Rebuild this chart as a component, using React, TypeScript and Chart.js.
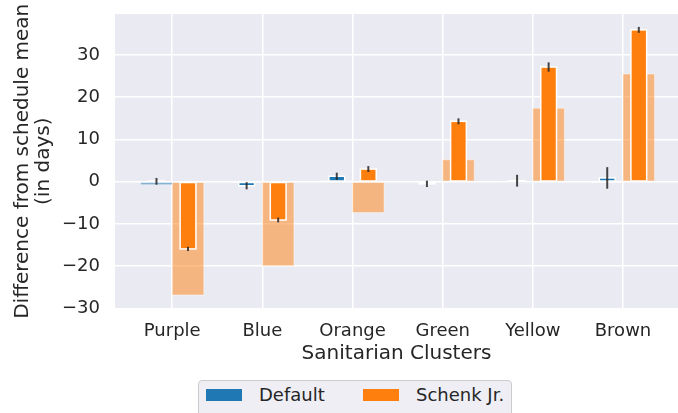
import React, { useEffect, useRef } from 'react';
import { Chart, registerables } from 'chart.js';

Chart.register(...registerables);

// ---- data ----
const categories = ['Purple', 'Blue', 'Orange', 'Green', 'Yellow', 'Brown'];
const seriesNames = ['Default', 'Schenk Jr.'];
const seriesColors = ['#1f77b4', '#ff7f0e'];
const seriesLightColors = ['rgba(31,119,180,0.5)', 'rgba(255,127,14,0.5)'];

const defaultValues = [0.1, -0.95, 1.3, -0.5, 0.25, 0.9];
const defaultErrors = [0.8, 0.85, 0.85, 0.75, 1.4, 2.55];
const defaultOverall = [-0.7, 0, 0.2, 0, -0.25, -0.15];

const schenkValues = [-15.9, -9.05, 3.0, 14.3, 27.15, 35.95];
const schenkErrors = [0.5, 0.55, 0.7, 0.7, 1.1, 0.7];
const schenkOverall = [-26.8, -19.9, -7.3, 5.2, 17.4, 25.5];

const yTicks = [-30, -20, -10, 0, 10, 20, 30];
const yMin = -30;
const yMax = 39.7;
const xMin = -0.635;
const xMax = 5.61;

const FONT = "'DejaVu Sans', sans-serif";
const TEXT = '#262626';

const toPoints = (vals: number[]) => vals.map((v, i) => ({ x: i, y: v }));

const bgPlugin = {
  id: 'plotBg',
  beforeDraw(chart: any) {
    const { ctx, chartArea } = chart;
    ctx.save();
    ctx.fillStyle = '#EAEAF2';
    ctx.fillRect(chartArea.left, chartArea.top, chartArea.right - chartArea.left, chartArea.bottom - chartArea.top);
    ctx.restore();
  },
};

// white edge drawn centred on the bar outline (matplotlib style)
const edgePlugin = {
  id: 'barEdges',
  afterDatasetDraw(chart: any, args: any) {
    const ds: any = chart.data.datasets[args.index];
    if (!ds.edgeColor) return;
    const { ctx } = chart;
    ctx.save();
    ctx.strokeStyle = ds.edgeColor;
    ctx.lineWidth = ds.edgeWidth;
    args.meta.data.forEach((bar: any) => {
      const { x, y, base, width } = bar.getProps(['x', 'y', 'base', 'width'], true);
      const top = Math.min(y, base);
      const h = Math.abs(y - base);
      ctx.strokeRect(x - width / 2, top, width, h);
    });
    ctx.restore();
  },
};

const errorBarPlugin = {
  id: 'errorBars',
  afterDatasetsDraw(chart: any) {
    const { ctx } = chart;
    const yScale = chart.scales.y;
    ctx.save();
    ctx.strokeStyle = 'rgba(38,38,38,0.85)';
    ctx.lineWidth = 2;
    chart.data.datasets.forEach((ds: any, di: number) => {
      const errs: number[] | undefined = ds.errors;
      if (!errs) return;
      const meta = chart.getDatasetMeta(di);
      meta.data.forEach((bar: any, i: number) => {
        const v = ds.data[i].y;
        ctx.beginPath();
        ctx.moveTo(bar.x, yScale.getPixelForValue(v + errs[i]));
        ctx.lineTo(bar.x, yScale.getPixelForValue(v - errs[i]));
        ctx.stroke();
      });
    });
    ctx.restore();
  },
};

export default function App() {
  const canvasRef = useRef<HTMLCanvasElement | null>(null);

  useEffect(() => {
    if (!canvasRef.current) return;
    const darkCommon = {
      categoryPercentage: 0.7,
      barPercentage: 0.5,
      borderWidth: 0,
      edgeColor: '#ffffff',
      edgeWidth: 1.5,
    };
    const lightCommon = {
      categoryPercentage: 0.7,
      barPercentage: 1.0,
      borderWidth: 0,
      edgeColor: 'rgba(255,255,255,0.45)',
      edgeWidth: 1,
    };
    const chart = new Chart(canvasRef.current, {
      type: 'bar',
      data: {
        datasets: [
          { ...darkCommon, label: seriesNames[0], stack: 'd', data: toPoints(defaultValues), backgroundColor: seriesColors[0], errors: defaultErrors } as any,
          { ...darkCommon, label: seriesNames[1], stack: 's', data: toPoints(schenkValues), backgroundColor: seriesColors[1], errors: schenkErrors } as any,
          { ...lightCommon, label: seriesNames[0] + ' overall', stack: 'd', data: toPoints(defaultOverall), backgroundColor: seriesLightColors[0] } as any,
          { ...lightCommon, label: seriesNames[1] + ' overall', stack: 's', data: toPoints(schenkOverall), backgroundColor: seriesLightColors[1] } as any,
        ],
      },
      options: {
        responsive: false,
        animation: false,
        devicePixelRatio: 1,
        layout: { padding: { top: 14, right: 0, bottom: 44.5, left: 0 } },
        plugins: {
          legend: { display: false },
          tooltip: { enabled: false },
        },
        scales: {
          x: {
            type: 'linear',
            stacked: true,
            offset: false,
            min: xMin,
            max: xMax,
            afterBuildTicks: (scale: any) => {
              scale.ticks = categories.map((_, i) => ({ value: i }));
            },
            afterFit: (scale: any) => {
              scale.height = 60;
              scale.paddingLeft = 0;
              scale.paddingRight = 0;
            },
            border: { display: false },
            grid: { color: '#ffffff', lineWidth: 1.5, drawTicks: false, offset: false },
            ticks: {
              padding: 12,
              color: TEXT,
              font: { family: FONT, size: 18 },
              callback: (v: any) => categories[v] ?? '',
              maxRotation: 0,
              autoSkip: false,
            },
            title: {
              display: true,
              text: 'Sanitarian Clusters',
              color: TEXT,
              font: { family: FONT, size: 20, lineHeight: 1.2 },
              padding: { top: 0, bottom: 2.5 },
            },
          },
          y: {
            type: 'linear',
            stacked: false,
            min: yMin,
            max: yMax,
            afterBuildTicks: (scale: any) => {
              scale.ticks = yTicks.map((v) => ({ value: v }));
            },
            afterFit: (scale: any) => {
              scale.width = 115;
              scale.paddingTop = 0;
              scale.paddingBottom = 0;
            },
            border: { display: false },
            grid: { color: '#ffffff', lineWidth: 1.5, drawTicks: false },
            ticks: {
              padding: 15,
              color: TEXT,
              font: { family: FONT, size: 18 },
              callback: (v: any) => (v < 0 ? '\u2212' + Math.abs(v) : String(v)),
            },
            title: {
              display: true,
              text: ['Difference from schedule mean', '(in days)'],
              color: TEXT,
              font: { family: FONT, size: 20, lineHeight: 1.05 },
              padding: { top: 12.5, bottom: 0 },
            },
          },
        },
      } as any,
      plugins: [bgPlugin, edgePlugin, errorBarPlugin],
    });
    return () => chart.destroy();
  }, []);

  return (
    <div style={{ position: 'fixed', left: 0, top: 0, width: 678, height: 413, overflow: 'hidden', background: '#ffffff' }}>
      <canvas ref={canvasRef} width={678} height={413} style={{ display: 'block', width: 678, height: 413 }} />
      <div
        style={{
          position: 'absolute',
          left: 198,
          top: 380,
          width: 314,
          height: 44,
          boxSizing: 'border-box',
          border: '1px solid #cccccc',
          borderRadius: 4,
          background: '#EEEEF4',
          fontFamily: FONT,
          fontSize: 18,
          color: TEXT,
        }}
      >
        {seriesNames.map((name, i) => (
          <React.Fragment key={name}>
            <div
              style={{
                position: 'absolute',
                left: i === 0 ? 7 : 164,
                top: 8,
                width: 36,
                height: 12,
                background: seriesColors[i],
              }}
            />
            <div
              style={{
                position: 'absolute',
                left: i === 0 ? 60 : 217,
                top: 2,
                lineHeight: '24px',
                whiteSpace: 'nowrap',
              }}
            >
              {name}
            </div>
          </React.Fragment>
        ))}
      </div>
    </div>
  );
}
